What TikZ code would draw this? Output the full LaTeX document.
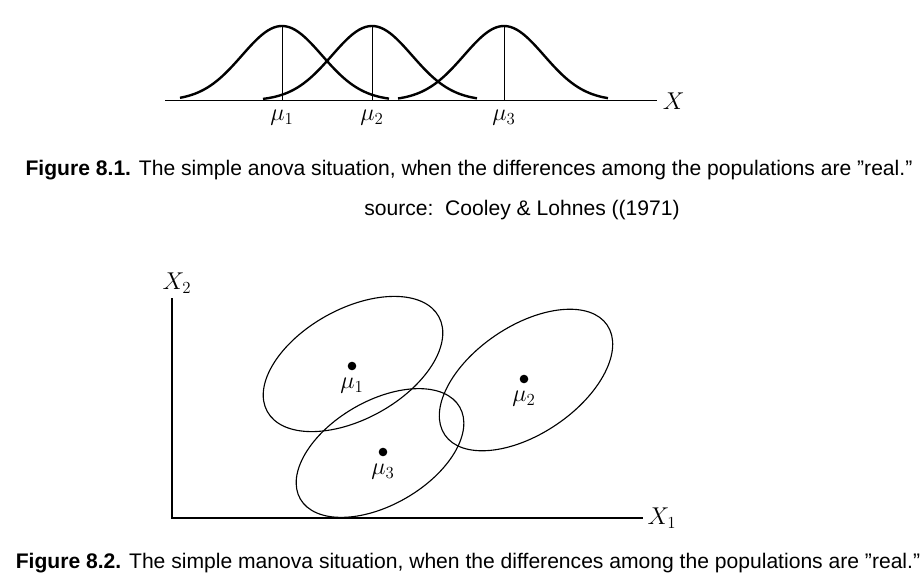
\documentclass[tikz,border=0pt]{standalone}
\usepackage{fontspec}
\setmainfont{Liberation Sans}
\usepackage{amsmath}
\usetikzlibrary{calc, positioning}

\tikzset{
  caption/.style={font=\fontsize{15}{18}\selectfont, inner sep=0pt},
  mathlbl/.style={font=\fontsize{17.5}{20}\selectfont, inner sep=0pt},
  bell/.style={line width=1.7pt},
  meanline/.style={line width=0.6pt},
  axis/.style={line width=0.9pt},
  contour/.style={line width=0.8pt},
}

\begin{document}
\begin{tikzpicture}[x=0.025cm, y=-0.025cm]
  \useasboundingbox (0,0) rectangle (924,577);

  % Figure 8.1: three univariate populations
  \coordinate (xl) at (165,100.7);
  \coordinate (xr) at (657,100.7);
  \draw[line width=0.8pt] (xl) -- (xr);
  \node[mathlbl, right=4pt of xr] (xlab) {$X$};

  \foreach \m/\lo/\hi/\i in {282/-102/107/1, 372/-109/105/2, 504/-106/104/3} {
    \draw[bell] plot[domain=\lo:\hi, samples=70, smooth]
      ({\m+\x}, {100.7-74.7*exp(-(\x)*(\x)/3200)});
    \coordinate (top\i) at (\m,26);
    \coordinate (bot\i) at (\m,100.7);
    \draw[meanline] (top\i) -- (bot\i);
    \node[mathlbl] (mu\i) at (\m,118) {$\mu_{\i}$};
  }

  \node[caption] (cap1) at (469,170)
    {\textbf{Figure 8.1.} The simple anova situation, when the differences among the populations are ''real.''};
  \node[caption] (src) at (522,210) {source:\ \ Cooley \& Lohnes ((1971)};

  % Figure 8.2: three bivariate populations
  \coordinate (org) at (172,518);
  \coordinate (ytop) at (172,298);
  \coordinate (xend) at (643,518);
  \draw[axis] (ytop) -- (org) -- (xend);
  \node[mathlbl] (x2lab) at (177,283) {$X_2$};
  \node[mathlbl, right=3pt of xend] (x1lab) {$X_1$};

  \foreach \cx/\cy/\ra/\rb/\ang/\i in {353/364/98/55/29/1, 526/380/98/54/34/2, 380/453/92/52/30/3} {
    \coordinate (c\i) at (\cx,\cy);
    \draw[contour, rotate around={\ang:(c\i)}] (c\i) ellipse [x radius=\ra, y radius=\rb];
  }
  \fill (352,366) circle (4.3);
  \fill (524,379) circle (4.3);
  \fill (383,452) circle (4.3);
  \node[mathlbl] (m1) at (352,386) {$\mu_1$};
  \node[mathlbl] (m2) at (524,399) {$\mu_2$};
  \node[mathlbl] (m3) at (383,472) {$\mu_3$};

  \node[caption] (cap2) at (468,563)
    {\textbf{Figure 8.2.} The simple manova situation, when the differences among the populations are ''real.''};
\end{tikzpicture}
\end{document}
